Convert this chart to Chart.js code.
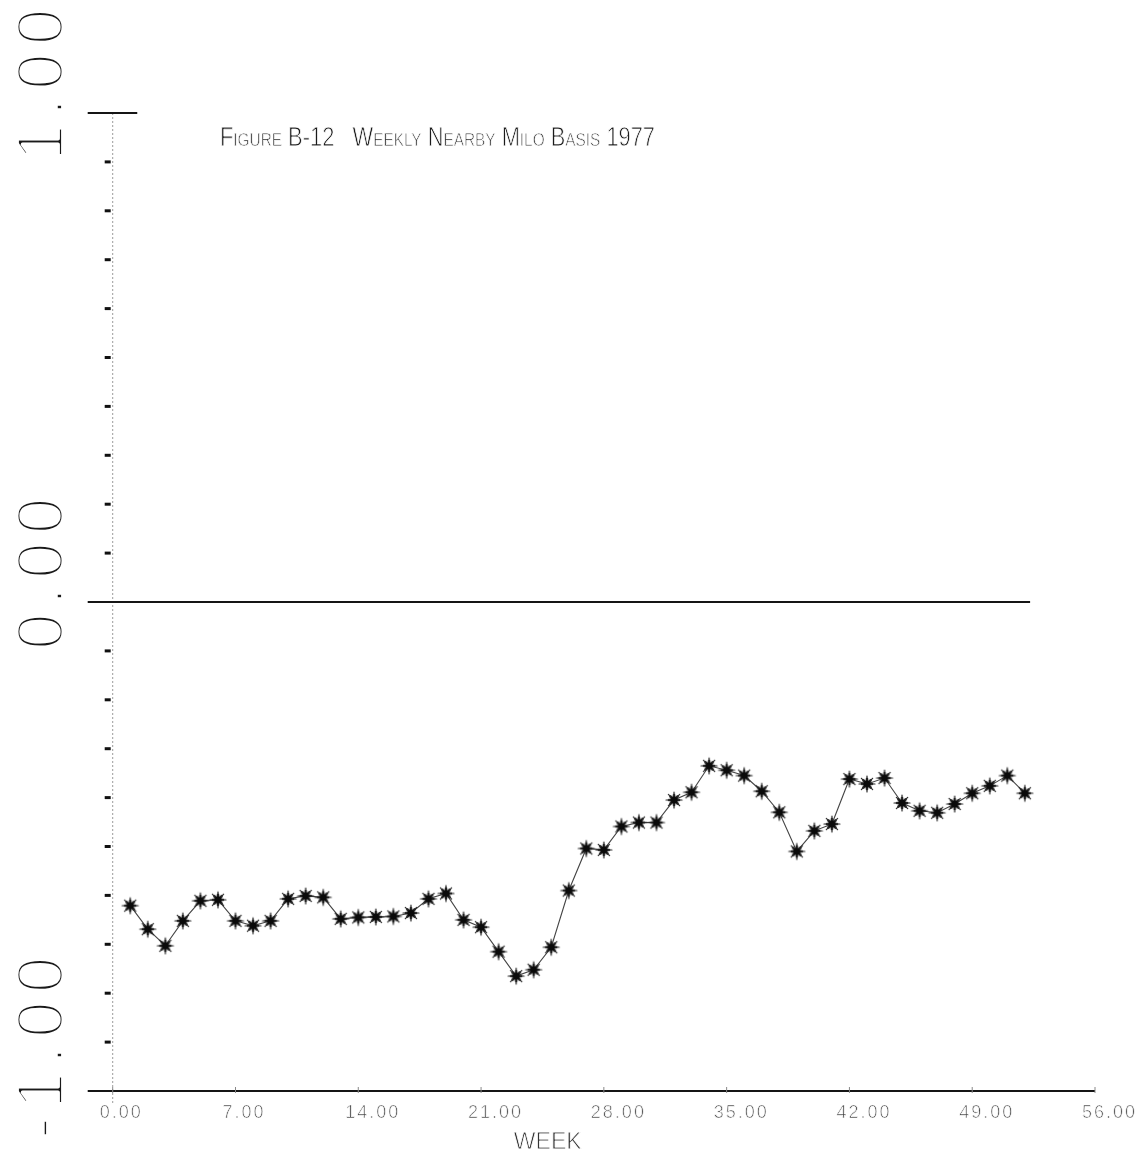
<!DOCTYPE html>
<html>
<head>
<meta charset="utf-8">
<script src="https://cdn.jsdelivr.net/npm/chart.js@4.4.1/dist/chart.umd.min.js"></script>
<style>
  html, body { margin: 0; padding: 0; background: #fff; }
  canvas { display: block; }
</style>
</head>
<body>
<canvas id="chart" width="1141" height="1152"></canvas>
<script>
// Weekly nearby milo basis, 1977 (dollars per unit)
const weeks = [1, 2, 3, 4, 5, 6, 7, 8, 9, 10, 11, 12, 13, 14, 15, 16, 17, 18, 19, 20,
               21, 22, 23, 24, 25, 26, 27, 28, 29, 30, 31, 32, 33, 34, 35, 36, 37, 38, 39, 40,
               41, 42, 43, 44, 45, 46, 47, 48, 49, 50, 51, 52];
const basis = [-0.621, -0.669, -0.703, -0.652, -0.611, -0.609, -0.652, -0.662, -0.652, -0.607,
               -0.601, -0.604, -0.648, -0.645, -0.644, -0.643, -0.636, -0.607, -0.596, -0.650,
               -0.665, -0.715, -0.765, -0.752, -0.706, -0.590, -0.504, -0.507, -0.459, -0.451,
               -0.451, -0.405, -0.389, -0.335, -0.344, -0.355, -0.387, -0.430, -0.510, -0.468,
               -0.454, -0.362, -0.372, -0.360, -0.411, -0.427, -0.431, -0.413, -0.391, -0.376,
               -0.355, -0.391];

const xTickValues = [0, 7, 14, 21, 28, 35, 42, 49, 56];
const xTickLabels = ['0.00', '7.00', '14.00', '21.00', '28.00', '35.00', '42.00', '49.00', '56.00'];
const yLabelValues = [1, 0, -1];
const yLabelTexts = ['1.00', '0.00', '-1.00'];
const yMinorTicks = [0.9, 0.8, 0.7, 0.6, 0.5, 0.4, 0.3, 0.2, 0.1,
                     -0.1, -0.2, -0.3, -0.4, -0.5, -0.6, -0.7, -0.8, -0.9];
const titleText = 'Figure B-12   Weekly Nearby Milo Basis 1977';
const xTitleText = 'WEEK';

const points = weeks.map((w, i) => ({ x: w, y: basis[i] }));

// Plotter asterisk: inked centre with thin spokes
function makeAsterisk() {
  const s = 20, c = s / 2;
  const cv = document.createElement('canvas');
  cv.width = s; cv.height = s;
  const g = cv.getContext('2d');
  g.strokeStyle = '#222';
  g.lineCap = 'round';
  g.lineWidth = 1.2;
  const r = 8;
  for (let k = 0; k < 4; k++) {
    const a = k * Math.PI / 4;
    g.beginPath();
    g.moveTo(c - r * Math.cos(a), c - r * Math.sin(a));
    g.lineTo(c + r * Math.cos(a), c + r * Math.sin(a));
    g.stroke();
  }
  g.lineWidth = 2.6;
  const r2 = 5;
  for (let k = 0; k < 4; k++) {
    const a = k * Math.PI / 4;
    g.beginPath();
    g.moveTo(c - r2 * Math.cos(a), c - r2 * Math.sin(a));
    g.lineTo(c + r2 * Math.cos(a), c + r2 * Math.sin(a));
    g.stroke();
  }
  g.fillStyle = '#0a0a0a';
  g.beginPath();
  g.arc(c, c, 3.6, 0, Math.PI * 2);
  g.fill();
  return cv;
}

// Draw text with its strokes thinned to a pen-line weight
function thinText(ctx, text, x, y, erode) {
  ctx.fillText(text, x, y);
  ctx.save();
  ctx.strokeStyle = '#fff';
  ctx.lineWidth = erode;
  ctx.lineJoin = 'round';
  ctx.strokeText(text, x, y);
  ctx.restore();
}

// Frame, rules, ticks and lettering in the style of a pen plotter
const plotterFrame = {
  id: 'plotterFrame',
  beforeDatasetsDraw(chart) {
    const { ctx, scales: { x, y } } = chart;
    const x0 = x.getPixelForValue(0);
    const xLeft = x0 - 25;
    ctx.save();

    // faint dotted vertical axis
    ctx.strokeStyle = '#9c9c9c';
    ctx.lineWidth = 1;
    ctx.setLineDash([2, 2]);
    ctx.beginPath();
    ctx.moveTo(x0, y.getPixelForValue(1));
    ctx.lineTo(x0, y.getPixelForValue(-1) + 14);
    ctx.stroke();
    ctx.setLineDash([]);

    // heavy rules at +1, 0 and -1
    ctx.strokeStyle = '#151515';
    ctx.lineWidth = 2;
    const rule = (v, toX) => {
      const py = y.getPixelForValue(v);
      ctx.beginPath();
      ctx.moveTo(xLeft, py);
      ctx.lineTo(x.getPixelForValue(toX), py);
      ctx.stroke();
    };
    rule(1, 1.4);
    rule(0, 52.3);
    rule(-1, 56);

    // short ticks on the vertical axis
    ctx.lineWidth = 3;
    ctx.strokeStyle = '#111';
    yMinorTicks.forEach(v => {
      const py = y.getPixelForValue(v);
      ctx.beginPath();
      ctx.moveTo(x0 - 8, py);
      ctx.lineTo(x0 - 2, py);
      ctx.stroke();
    });

    // small ticks on the week axis
    ctx.lineWidth = 1;
    ctx.strokeStyle = '#888';
    const yb = y.getPixelForValue(-1);
    xTickValues.forEach(v => {
      const px = x.getPixelForValue(v);
      ctx.beginPath();
      ctx.moveTo(px, yb - 4);
      ctx.lineTo(px, yb + 2);
      ctx.stroke();
    });
    ctx.restore();
  },
  afterDraw(chart) {
    const { ctx, scales: { x, y } } = chart;
    ctx.save();

    // week tick labels
    ctx.fillStyle = '#444';
    ctx.font = '18px "Liberation Sans", sans-serif';
    if ('letterSpacing' in ctx) ctx.letterSpacing = '2px';
    ctx.textAlign = 'left';
    ctx.textBaseline = 'alphabetic';
    const yb = y.getPixelForValue(-1);
    xTickValues.forEach((v, i) => {
      thinText(ctx, xTickLabels[i], x.getPixelForValue(v) - 13, yb + 27, 0.7);
    });
    if ('letterSpacing' in ctx) ctx.letterSpacing = '0px';

    // axis title
    ctx.fillStyle = '#333';
    ctx.font = '23px "Liberation Sans Narrow", "Liberation Sans", sans-serif';
    ctx.textAlign = 'center';
    thinText(ctx, xTitleText, x.getPixelForValue(24.8), yb + 58, 0.8);

    // large rotated value labels
    ctx.fillStyle = '#1a1a1a';
    ctx.font = '66px "Liberation Sans", sans-serif';
    if ('letterSpacing' in ctx) ctx.letterSpacing = '8px';
    ctx.textAlign = 'left';
    yLabelValues.forEach((v, i) => {
      const py = y.getPixelForValue(v);
      ctx.save();
      ctx.translate(63, py + 48);
      ctx.rotate(-Math.PI / 2);
      thinText(ctx, yLabelTexts[i], 0, 0, 3.8);
      ctx.restore();
    });
    if ('letterSpacing' in ctx) ctx.letterSpacing = '0px';

    // figure caption in small capitals
    ctx.fillStyle = '#1a1a1a';
    ctx.font = 'small-caps 27px "Liberation Sans Narrow", "Liberation Sans", sans-serif';
    if ('fontVariantCaps' in ctx) ctx.fontVariantCaps = 'small-caps';
    ctx.textAlign = 'left';
    const w = ctx.measureText(titleText).width;
    const target = 435;
    ctx.translate(220, 146);
    ctx.scale(target / w, 1);
    thinText(ctx, titleText, 0, 0, 0.8);
    ctx.restore();
  }
};

new Chart(document.getElementById('chart'), {
  type: 'line',
  data: {
    datasets: [{
      data: points,
      borderColor: '#444',
      borderWidth: 1.1,
      pointStyle: makeAsterisk(),
      pointRadius: 10,
      tension: 0,
      clip: false
    }]
  },
  options: {
    responsive: false,
    animation: false,
    devicePixelRatio: 1,
    layout: { padding: { left: 112.7, right: 46, top: 113, bottom: 61 } },
    plugins: { legend: { display: false }, tooltip: { enabled: false }, title: { display: false } },
    scales: {
      x: { type: 'linear', min: 0, max: 56, display: false },
      y: { type: 'linear', min: -1, max: 1, display: false }
    }
  },
  plugins: [plotterFrame]
});
</script>
</body>
</html>
